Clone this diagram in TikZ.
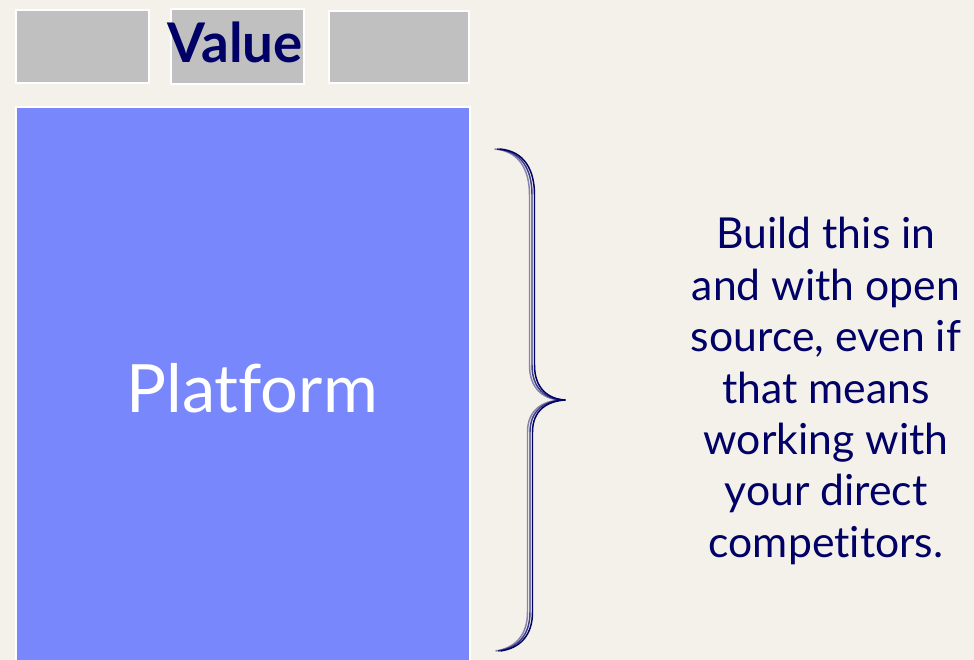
\documentclass[tikz,border=0pt]{standalone}
\usepackage{fontspec}
\setmainfont{Lato}[Ligatures=NoCommon]
\definecolor{bgc}{HTML}{F4F1EA}
\definecolor{boxgray}{HTML}{C0C0C0}
\definecolor{platblue}{HTML}{7887FC}
\definecolor{navy}{HTML}{000066}
\begin{document}
\begin{tikzpicture}[x=0.75pt,y=-0.75pt,
  graybox/.style={draw=white,line width=1.5pt,fill=boxgray,inner sep=0pt,anchor=north west},
  bracestroke/.style={draw=navy,line width=1.1pt}]
\useasboundingbox[fill=bgc] (0,0) rectangle (974,660);
\node[graybox,minimum width=100pt,minimum height=55pt] (b1) at (15,9) {};
\node[graybox,minimum width=100pt,minimum height=56pt] (b2) at (170,8) {};
\node[graybox,minimum width=105pt,minimum height=54pt] (b3) at (328,10) {};
\node[anchor=center,text=navy,font=\fontsize{41}{44}\selectfont\bfseries,inner sep=0pt] (val) at (235,42) {Value};
\node[draw=white,line width=1.5pt,fill=platblue,inner sep=0pt,anchor=north west,minimum width=340.5pt,minimum height=420pt] (plat) at (15,106) {};
\node[text=white,font=\fontsize{50}{55}\selectfont,inner sep=0pt] (pt) at (252,388) {Platform};
\node[text=navy,align=center,font=\fontsize{32}{38.6}\selectfont,inner sep=0pt] (txt) at (826,391) {Build this in\\and with open\\source, even if\\that means\\working with\\your direct\\competitors.};
\foreach \dx/\op in {-2.5/0.45,0/0.75,2.5/1}{
  \begin{scope}[xshift=\dx*0.75pt]
  \draw[bracestroke,draw opacity=\op] (497,149) .. controls (522,151) and (532,170) .. (532,195) -- (532,365) .. controls (532,388) and (545,399) .. (563,400);
  \draw[bracestroke,draw opacity=\op] (563,400) .. controls (545,401) and (530,410) .. (530,432) -- (530,612) .. controls (530,635) and (518,648) .. (498,651);
  \end{scope}
}
\end{tikzpicture}
\end{document}
